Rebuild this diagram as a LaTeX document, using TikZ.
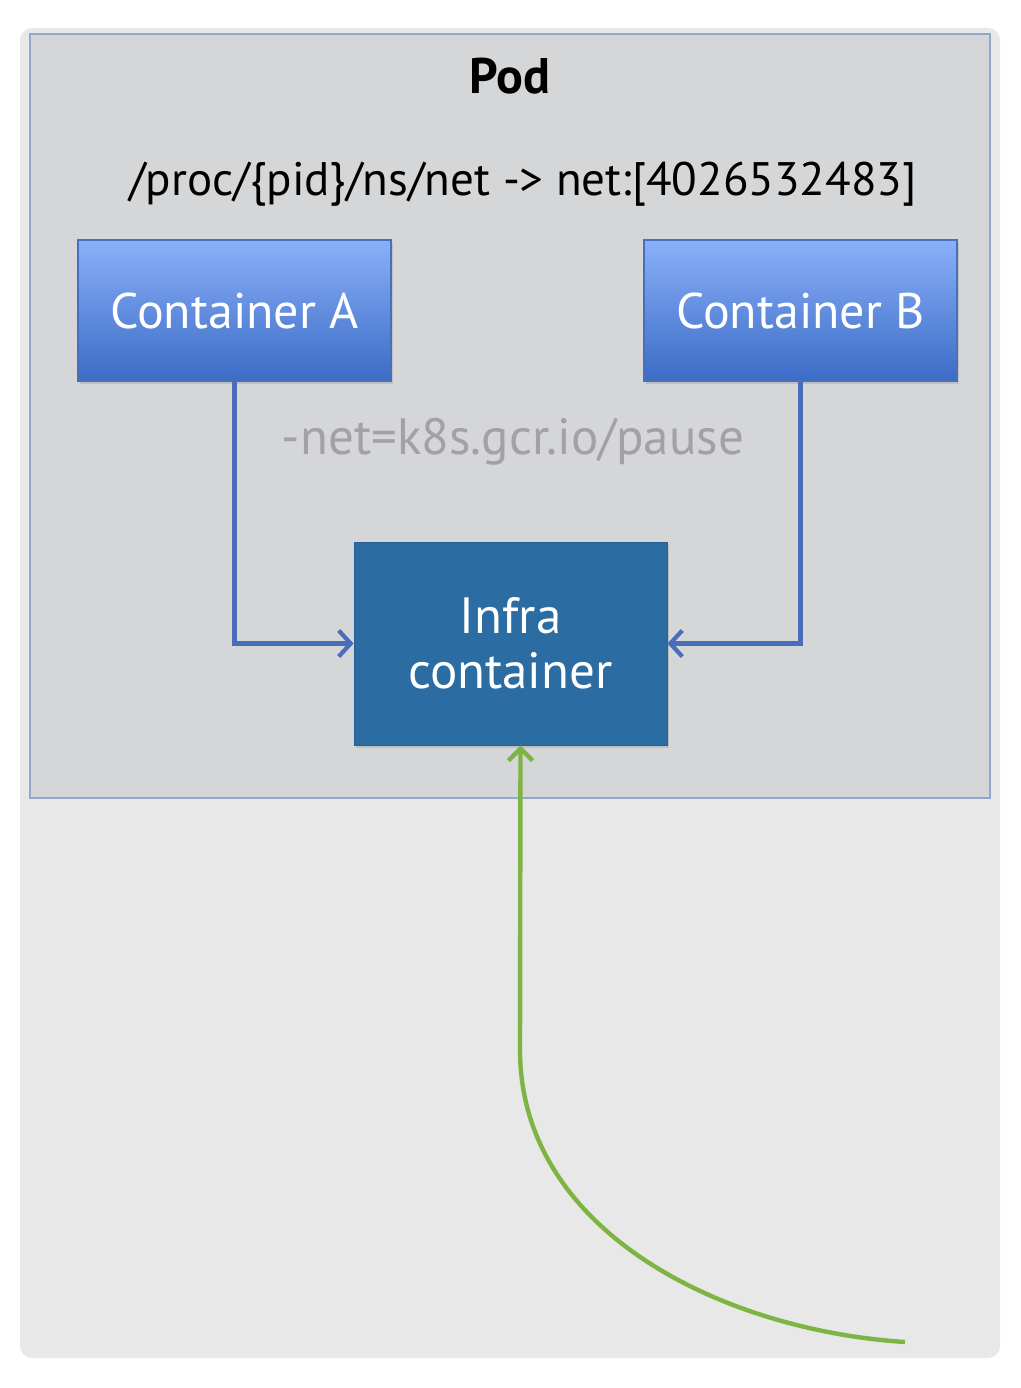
\documentclass[tikz,border=0pt]{standalone}
\usepackage{fontspec}
\setmainfont{PT Sans}
\usepackage{tikz}
\usetikzlibrary{arrows.meta,positioning,calc,shadows}
\definecolor{pagegray}{HTML}{E8E8E8}
\definecolor{podgray}{HTML}{D5D6D8}
\definecolor{podedge}{HTML}{8FA8CC}
\definecolor{boxtop}{HTML}{8AB0F8}
\definecolor{boxbottom}{HTML}{3B6CC6}
\definecolor{boxedge}{HTML}{4670BE}
\definecolor{infrablue}{HTML}{2B6CA3}
\definecolor{linkblue}{HTML}{4A6DBB}
\definecolor{feedgreen}{HTML}{7DB443}
\definecolor{labelgray}{HTML}{A2A2A4}

\tikzset{
  ctrbox/.style={draw=boxedge, line width=1.2pt, top color=boxtop, bottom color=boxbottom,
    minimum width=313pt, minimum height=141pt, text=white, font=\fontsize{50}{56}\selectfont,
    drop shadow={shadow xshift=2pt, shadow yshift=-3pt, opacity=0.25}},
  infrabox/.style={fill=infrablue, draw=infrablue!90!black, line width=0.8pt,
    minimum width=313pt, minimum height=203pt, text=white, align=center,
    font=\fontsize{51}{55}\selectfont,
    drop shadow={shadow xshift=2pt, shadow yshift=-3pt, opacity=0.25}},
  link/.style={draw=linkblue, line width=4.2pt, -{Straight Barb[length=12pt,width=26pt,line width=4.2pt]}},
  feed/.style={draw=feedgreen, line width=4.4pt, -{Straight Barb[length=12pt,width=24pt,line width=4.4pt]}}
}

\begin{document}
\begin{tikzpicture}[x=1pt,y=-1pt]
\useasboundingbox (0,0) rectangle (1020,1388);
% page and pod frame
\fill[pagegray, rounded corners=12pt] (20,28) rectangle (1000,1358);
\node[fill=podgray, draw=podedge, line width=1.8pt, minimum width=960pt, minimum height=764pt] (pod) at (510,416) {};

\node[font=\fontsize{50}{56}\selectfont\bfseries] (podtitle) at (510,76) {Pod};
\node[font=\fontsize{47}{52}\selectfont] (nspath) at (523,184) {/proc/\{pid\}/ns/net -> net:[4026532483]};

% containers
\node[ctrbox] (ctra) at (234.5,310.5) {Container A};
\node[ctrbox] (ctrb) at (800.5,310.5) {Container B};
\node[infrabox] (infra) at (510.5,643.5) {Infra\\container};

\node[text=labelgray, font=\fontsize{51}{56}\selectfont] (pauseopt) at (513,442) {-net=k8s.gcr.io/pause};

% shared net namespace
\draw[link] (ctra.south) |- (infra.west);
\draw[link] (ctrb.south) |- (infra.east);

% outside traffic
\coordinate (src) at (905,1342);
\coordinate (entry) at ([xshift=10pt]infra.south);
\draw[feed] (src) .. controls (720,1330) and (520,1230) .. (520,1050) -- (entry);
\end{tikzpicture}
\end{document}
